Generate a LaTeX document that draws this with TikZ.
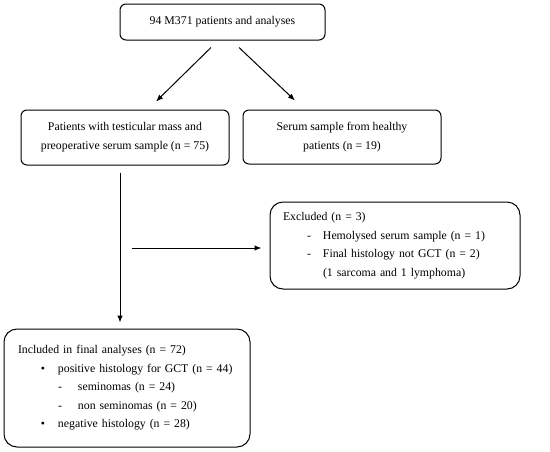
\documentclass[tikz,border=0pt]{standalone}
\usepackage{fontspec}
\setmainfont{Liberation Serif}
\usetikzlibrary{calc}
\usetikzlibrary{arrows.meta}

\tikzset{
  box/.style={draw, line width=1pt, rounded corners=6pt, align=center, inner sep=0pt,
    font=\fontsize{11.8}{19}\selectfont},
  listbox/.style={box, rounded corners=13pt, align=left, font=\fontsize{11.8}{18.5}\selectfont},
  >={Latex[length=7pt,width=5.5pt]}
}

\begin{document}
\begin{tikzpicture}[x=1pt,y=-1pt]
        \useasboundingbox (0,0) rectangle (550,451);
        \node[box, minimum width=205pt, minimum height=36pt] (top) at (222.5,22){94 M371 patients and analyses};
        \node[box, minimum width=208pt, minimum height=55pt] (pat) at (125,137.5){Patients with testicular mass and\\preoperative serum sample (n = 75)};
        \node[box, minimum width=198pt, minimum height=54pt] (healthy) at (342,137){Serum sample from healthy\\patients (n = 19)};
        \node[listbox, text width=224pt, inner xsep=13pt, minimum height=87pt] (exc) at (395,245.5){Excluded (n = 3)\\
            \hspace*{24pt}\makebox[16pt][l]{-}Hemolysed serum sample (n = 1)\\
            \hspace*{24pt}\makebox[16pt][l]{-}Final histology not GCT (n = 2)\\
            \hspace*{40pt}(1 sarcoma and 1 lymphoma)};
        \node[listbox, text width=218pt, inner xsep=14pt, minimum height=118pt] (inc) at (127,388){Included in final analyses (n = 72)\\
            \hspace*{23pt}\makebox[17pt][l]{\textbullet}positive histology for GCT (n = 44)\\
            \hspace*{40pt}\makebox[20pt][l]{-}seminomas (n = 24)\\
            \hspace*{40pt}\makebox[20pt][l]{-}non seminomas (n = 20)\\
            \hspace*{23pt}\makebox[17pt][l]{\textbullet}negative histology (n = 28)};
        \draw[->, line width=1pt]($(top.south)+(-11.5,7)$)--($(pat.north)+(31,-8)$);
        \draw[->, line width=1pt]($(top.south)+(16.5,7)$)--($(healthy.north)+(-47,-9)$);
        \draw[->, line width=1pt]($(pat.south)+(-5,7)$)--($(pat.south |- inc.north)+(-5,-6)$);
        \draw[->, line width=1pt]($(exc.west)+(-138,2.5)$)--($(exc.west)+(-8,2.5)$);
\end{tikzpicture}
\end{document}
